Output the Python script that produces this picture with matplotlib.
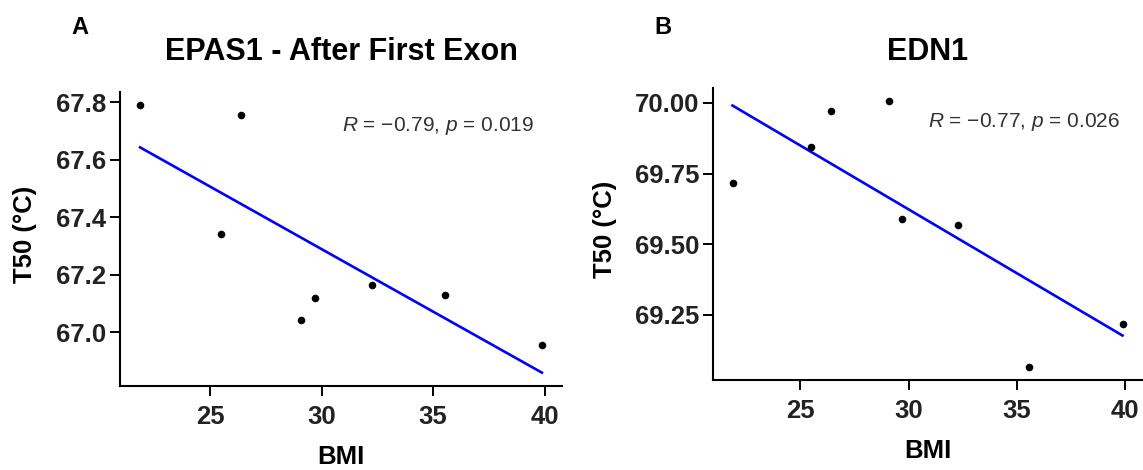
import matplotlib
matplotlib.use("Agg")
import matplotlib.pyplot as plt
import numpy as np

plt.rcParams['font.family'] = ['Liberation Sans', 'DejaVu Sans']
plt.rcParams['mathtext.fontset'] = 'custom'
plt.rcParams['mathtext.rm'] = 'Liberation Sans'
plt.rcParams['mathtext.it'] = 'Liberation Sans:italic'

# data
bmi = [21.86, 25.47, 26.40, 29.09, 29.69, 32.27, 35.55, 39.88]
t50_epas1 = [67.790, 67.343, 67.758, 67.044, 67.120, 67.165, 67.130, 66.955]
t50_edn1 = [69.716, 69.845, 69.971, 70.006, 69.588, 69.568, 69.067, 69.217]

panels = ["A", "B"]
titles = ["EPAS1 - After First Exon", "EDN1"]
stats = [r"$R$ = −0.79, $p$ = 0.019", r"$R$ = −0.77, $p$ = 0.026"]
xticks = [25, 30, 35, 40]
yticks_a = [67.0, 67.2, 67.4, 67.6, 67.8]
yticks_b = [69.25, 69.50, 69.75, 70.00]

W, H = 1143, 470
fig = plt.figure(figsize=(W / 100, H / 100), dpi=100)

# axes boxes in pixels: left, right, top, bottom
boxes = [(120, 562, 92, 386), (713, 1142, 88, 380)]
series = [t50_epas1, t50_edn1]
yticks_all = [yticks_a, yticks_b]
yfmt = ["{:.1f}", "{:.2f}"]
ylab_x = [25, 605]
letter_x = [80, 663]

for i in range(2):
    l, r, t, b = boxes[i]
    ax = fig.add_axes([l / W, 1 - b / H, (r - l) / W, (b - t) / H])
    x = np.array(bmi)
    y = np.array(series[i])

    # linear fit (like geom_smooth(method="lm"))
    k, c = np.polyfit(x, y, 1)
    xs = np.array([x.min(), x.max()])
    ys = k * xs + c

    ax.plot(xs, ys, color='#0000FF', lw=1.9, zorder=2)
    ax.scatter(x, y, s=30, color='black', zorder=3, linewidths=0)

    # ggplot-like 5% expansion
    xlo, xhi = x.min(), x.max()
    ylo, yhi = min(y.min(), ys.min()), max(y.max(), ys.max())
    ax.set_xlim(xlo - 0.05 * (xhi - xlo), xhi + 0.05 * (xhi - xlo))
    ax.set_ylim(ylo - 0.05 * (yhi - ylo), yhi + 0.05 * (yhi - ylo))

    ax.set_xticks(xticks)
    ax.set_yticks(yticks_all[i])
    ax.set_yticklabels([yfmt[i].format(v) for v in yticks_all[i]])

    for s in ['top', 'right']:
        ax.spines[s].set_visible(False)
    for s in ['left', 'bottom']:
        ax.spines[s].set_linewidth(1.5)
    ax.tick_params(axis='both', length=7, width=1.4, labelsize=18.5, colors='black')
    ax.tick_params(axis='x', pad=7)
    ax.tick_params(axis='y', pad=3)
    for lab in ax.get_xticklabels() + ax.get_yticklabels():
        lab.set_fontweight('bold')
        lab.set_color('#222222')

    ax.set_xlabel("BMI", fontsize=18.5, fontweight='bold', labelpad=11)
    fig.text(ylab_x[i] / W, 1 - ((t + b) / 2 - 5) / H, "T50 (°C)", rotation=90,
             ha='center', va='center', fontsize=18.5, fontweight='bold')

    ax.text(0.502, 0.885, stats[i], transform=ax.transAxes, ha='left', va='center',
            fontsize=15, color='#333333')

    # title and panel letter
    fig.text(((l + r) / 2) / W, 1 - 52 / H, titles[i], ha='center', va='center',
             fontsize=22, fontweight='bold')
    fig.text(letter_x[i] / W, 1 - 27 / H, panels[i], ha='center', va='center',
             fontsize=17, fontweight='bold')

fig.savefig("out.png", dpi=100, facecolor='white')
